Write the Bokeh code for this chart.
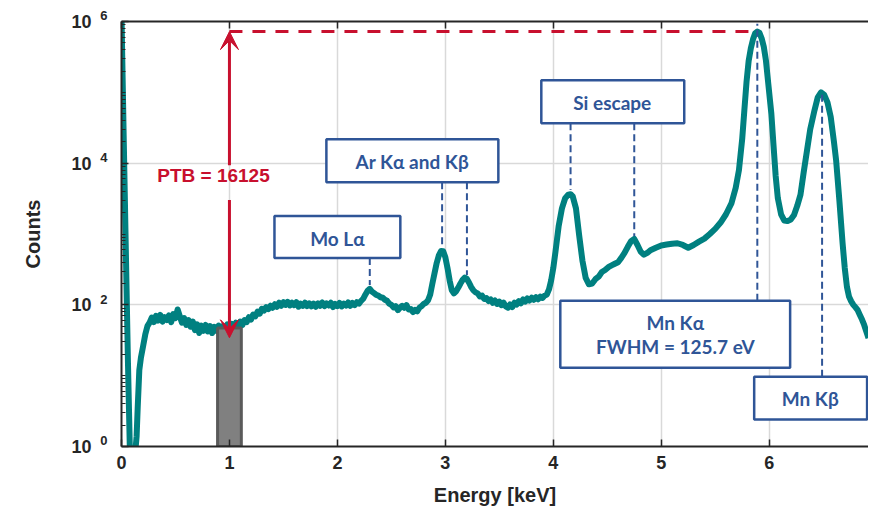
from bokeh.plotting import figure
from bokeh.models import (Range1d, FixedTicker, LinearAxis, LogAxis, Label, Arrow, VeeHead,
                          CustomJSTickFormatter)
from bokeh.core.properties import value
from bokeh.embed import file_html
from bokeh.resources import INLINE

# ---------------- data ----------------
# low-energy edge (noise peak / detector cut-off)
energy_low = [0.00, 0.02, 0.04, 0.06, 0.08, 0.10, 0.12, 0.14, 0.15, 0.165, 0.18, 0.20, 0.22, 0.24]
counts_low = [1.2e6, 2.5e4, 600, 15, 0.6, 0.5, 0.6, 1.4, 3.5, 12, 18, 26, 38, 50]

# background + Mo L / Ar K region
energy_mid = [
    0.26, 0.28, 0.30, 0.32, 0.34, 0.36, 0.38, 0.40, 0.42, 0.44,
    0.46, 0.48, 0.50, 0.52, 0.54, 0.56, 0.58, 0.60, 0.62, 0.64,
    0.66, 0.68, 0.70, 0.72, 0.74, 0.76, 0.78, 0.80, 0.82, 0.84,
    0.86, 0.88, 0.90, 0.92, 0.94, 0.96, 0.98, 1.00, 1.02, 1.04,
    1.06, 1.08, 1.10, 1.12, 1.14, 1.16, 1.18, 1.20, 1.22, 1.24,
    1.26, 1.28, 1.30, 1.32, 1.34, 1.36, 1.38, 1.40, 1.42, 1.44,
    1.46, 1.48, 1.50, 1.52, 1.54, 1.56, 1.58, 1.60, 1.62, 1.64,
    1.66, 1.68, 1.70, 1.72, 1.74, 1.76, 1.78, 1.80, 1.82, 1.84,
    1.86, 1.88, 1.90, 1.92, 1.94, 1.96, 1.98, 2.00, 2.02, 2.04,
    2.06, 2.08, 2.10, 2.12, 2.14, 2.16, 2.18, 2.20, 2.22, 2.24,
    2.26, 2.28, 2.30, 2.32, 2.34, 2.36, 2.38, 2.40, 2.42, 2.44,
    2.46, 2.48, 2.50, 2.52, 2.54, 2.56, 2.58, 2.60, 2.62, 2.64,
    2.66, 2.68, 2.70, 2.72, 2.74, 2.76, 2.78, 2.80, 2.82, 2.84,
    2.86, 2.88, 2.90, 2.92, 2.94, 2.96, 2.98, 3.00, 3.02, 3.04,
    3.06, 3.08, 3.10, 3.12, 3.14, 3.16, 3.18, 3.20, 3.22, 3.24,
    3.26, 3.28, 3.30, 3.32, 3.34, 3.36, 3.38, 3.40, 3.42, 3.44,
    3.46, 3.48, 3.50, 3.52, 3.54, 3.56, 3.58, 3.60, 3.62, 3.64,
    3.66, 3.68, 3.70, 3.72, 3.74, 3.76, 3.78, 3.80, 3.82, 3.84,
    3.86, 3.88, 3.90, 3.92, 3.94, 3.96, 3.98,
]
counts_mid = [
    56, 66, 57, 70, 60, 72, 58, 67, 61, 71,
    57, 74, 65, 86, 69, 56, 65, 52, 61, 49,
    58, 44, 53, 40, 51, 43, 52, 42, 50, 40,
    49, 43, 51, 42, 50, 45, 53, 46, 54, 48,
    56, 49, 58, 52, 61, 57, 67, 62, 73, 69,
    80, 75, 88, 83, 93, 87, 97, 91, 102, 94,
    107, 97, 109, 100, 110, 98, 107, 99, 109, 94,
    104, 97, 107, 96, 105, 95, 104, 94, 105, 97,
    108, 96, 105, 98, 107, 93, 103, 96, 106, 95,
    104, 98, 108, 97, 106, 99, 109, 104, 114, 122,
    140, 158, 168, 154, 146, 138, 135, 128, 126, 118,
    114, 104, 100, 92, 96, 84, 91, 97, 91, 99,
    86, 87, 79, 85, 81, 91, 96, 103, 107, 116,
    140, 200, 280, 390, 500, 575, 570, 470, 330, 220,
    160, 145, 155, 175, 200, 225, 242, 232, 205, 178,
    160, 150, 145, 131, 135, 121, 125, 113, 119, 107,
    115, 103, 111, 99, 107, 95, 91, 101, 93, 107,
    101, 113, 105, 119, 111, 123, 115, 126, 118, 128,
    120, 131, 125, 135, 140, 165, 220,
]

# Si escape + Mn K region
energy_high = [
    4.00, 4.02, 4.05, 4.08, 4.11, 4.14, 4.16, 4.18, 4.21, 4.24,
    4.27, 4.30, 4.33, 4.36, 4.39, 4.42, 4.45, 4.48, 4.51, 4.54,
    4.57, 4.60, 4.63, 4.66, 4.69, 4.72, 4.75, 4.78, 4.81, 4.84,
    4.87, 4.90, 4.95, 5.00, 5.05, 5.10, 5.15, 5.20, 5.25, 5.30,
    5.35, 5.40, 5.45, 5.50, 5.55, 5.60, 5.65, 5.69, 5.72, 5.75,
    5.77, 5.79, 5.81, 5.83, 5.85, 5.87, 5.89, 5.91, 5.93, 5.95,
    5.97, 5.99, 6.02, 6.04, 6.06, 6.08, 6.11, 6.14, 6.17, 6.20,
    6.23, 6.26, 6.29, 6.32, 6.35, 6.38, 6.42, 6.45, 6.48, 6.51,
    6.54, 6.57, 6.60, 6.62, 6.65, 6.68, 6.70, 6.72, 6.74, 6.76,
    6.78, 6.80, 6.82, 6.84, 6.86, 6.88, 6.90, 6.92,
]
counts_high = [
    330, 560, 1300, 2300, 3200, 3600, 3650, 3400, 2300, 950,
    420, 240, 195, 200, 230, 250, 290, 310, 340, 360,
    380, 400, 460, 540, 660, 790, 850, 700, 560, 510,
    540, 590, 640, 690, 710, 730, 740, 700, 640, 700,
    780, 860, 1000, 1180, 1450, 1900, 2700, 4500, 8000, 22000,
    56000, 140000, 280000, 420000, 560000, 680000, 720000, 690000, 580000, 440000,
    280000, 140000, 50000, 18000, 6600, 3200, 1900, 1550, 1520, 1600,
    1850, 2500, 3600, 7500, 15000, 30000, 56000, 85000, 100000, 92000,
    72000, 45000, 20000, 11000, 3000, 740, 330, 180, 130, 112,
    100, 92, 84, 72, 62, 52, 42, 34,
]

energy_kev = energy_low + energy_mid + energy_high
counts = counts_low + counts_mid + counts_high

x_ticks = [0, 1, 2, 3, 4, 5, 6]
y_ticks = [1, 1e2, 1e4, 1e6]
y_tick_base = "10"
y_exponents = ["0", "2", "4", "6"]

# peak annotation boxes (keV / counts)
box_left = [1.417, 1.898, 3.889, 4.065, 5.861]
box_right = [2.583, 3.491, 5.213, 6.194, 6.907]
box_bottom = [10**2.662, 10**3.732, 10**4.563, 10**1.113, 10**0.380]
box_top = [10**3.254, 10**4.338, 10**5.169, 10**2.056, 10**0.986]
text_x = [2.0, 2.694, 4.546, 5.13, 5.13, 6.38]
text_y = [10**2.93, 10**4.03, 10**4.86, 10**1.746, 10**1.408, 10**0.676]
text_lines = ["Mo Lα", "Ar Kα and Kβ", "Si escape", "Mn Kα", "FWHM = 125.7 eV", "Mn Kβ"]

# dashed peak markers
mark_x = [2.30, 2.97, 3.20, 4.16, 4.75, 5.89, 6.49]
mark_y0 = [10**2.662, 10**3.732, 10**3.732, 10**4.563, 10**4.563, 10**2.056, 10**0.986]
mark_y1 = [10**2.28, 10**2.82, 10**2.42, 10**3.62, 10**2.97, 10**5.97, 10**5.0]

# peak-to-background
peak_energy = 5.88
peak_counts = 7.2e5
bg_energy = 1.0
bg_left, bg_right = 0.89, 1.11
bg_counts = 47
ptb_text = "PTB = 16125"

TEAL = "#008080"
BLUE = "#2F5597"
RED = "#C8102E"
DARK = "#262626"

p = figure(width=868, height=515, x_range=Range1d(0, 6.92), y_range=Range1d(1, 1e6),
           y_axis_type="log", output_backend="svg", toolbar_location=None,
           min_border_left=121, min_border_right=0, min_border_top=21, min_border_bottom=69)
p.outline_line_color = None
p.background_fill_color = "white"
p.border_fill_color = "white"

# grid
p.xgrid.ticker = FixedTicker(ticks=x_ticks[1:])
p.ygrid.ticker = FixedTicker(ticks=[1e2, 1e4])
for g in (p.xgrid, p.ygrid):
    g.grid_line_color = "#d9d9d9"
    g.grid_line_width = 1.5

# inner y axis: axis line, ticks and the exponents (an empty 2nd line lifts them up)
minor = [m * 10**k for k in range(6) for m in range(2, 10)] + [10, 1e3, 1e5]
exp_axis = p.yaxis[0]
xax = p.xaxis[0]
exp_axis.ticker = FixedTicker(ticks=y_ticks, minor_ticks=minor)
exp_axis.formatter = CustomJSTickFormatter(
    args=dict(tv=y_ticks, labs=y_exponents),
    code="const i = tv.findIndex(t => Math.abs(t - tick) < 1e-6 * t); return i >= 0 ? labs[i] + '\\n ' : '';")
xax.ticker = FixedTicker(ticks=x_ticks)
for ax in (xax, exp_axis):
    ax.axis_line_color = DARK
    ax.axis_line_width = 2
    ax.major_tick_in = 7
    ax.major_tick_out = 0
    ax.major_tick_line_color = DARK
    ax.major_tick_line_width = 1.5
    ax.minor_tick_in = 4
    ax.minor_tick_out = 0
    ax.minor_tick_line_color = DARK
    ax.major_label_text_font = "Liberation Sans"
    ax.major_label_text_font_style = "bold"
    ax.major_label_text_color = DARK
    ax.major_label_text_font_size = "18px"
    ax.axis_label_text_font = "Liberation Sans"
    ax.axis_label_text_font_style = "bold"
    ax.axis_label_text_color = DARK
    ax.axis_label_text_font_size = "20px"
xax.minor_tick_line_color = None
xax.major_label_standoff = 9
xax.axis_label = "Energy [keV]"
xax.axis_label_standoff = 12
exp_axis.major_label_text_font_size = "13px"
exp_axis.major_label_text_line_height = 0.75
exp_axis.major_label_standoff = 14

# outer y axis: the "10" bases and the title
base_axis = LogAxis(ticker=FixedTicker(ticks=y_ticks),
                    formatter=CustomJSTickFormatter(args=dict(b=y_tick_base), code="return b;"),
                    axis_line_color=None, major_tick_line_color=None, minor_tick_line_color=None,
                    major_tick_in=0, major_tick_out=0, minor_tick_in=0, minor_tick_out=0,
                    major_label_standoff=6, major_label_text_font="Liberation Sans",
                    major_label_text_font_style="bold", major_label_text_color=DARK,
                    major_label_text_font_size="18px",
                    axis_label="Counts", axis_label_standoff=24,
                    axis_label_text_font="Liberation Sans", axis_label_text_font_style="bold",
                    axis_label_text_color=DARK, axis_label_text_font_size="20px")
p.add_layout(base_axis, "left")

top = LinearAxis(ticker=FixedTicker(ticks=x_ticks), formatter=CustomJSTickFormatter(code="return ''"),
                 axis_line_color=DARK, axis_line_width=2, major_tick_in=7, major_tick_out=0,
                 major_tick_line_color=DARK, major_tick_line_width=1.5,
                 minor_tick_line_color=None, major_label_standoff=0,
                 major_label_text_font_size="1px")
p.add_layout(top, "above")

# red dashed peak level
p.line([bg_energy, peak_energy], [peak_counts, peak_counts], line_color=RED,
       line_width=3, line_dash="13 10")

# spectrum
p.line(energy_kev, counts, line_color=TEAL, line_width=6, line_join="round")

# background window
p.quad(left=[bg_left], right=[bg_right], bottom=[1], top=[bg_counts],
       fill_color="#808080", line_color="#5a5a5a", line_width=3)

# dashed markers
p.segment(x0=mark_x, y0=mark_y0, x1=mark_x, y1=mark_y1, line_color=BLUE,
          line_width=2, line_dash="7 4")

# boxes
p.quad(left=box_left, right=box_right, bottom=box_bottom, top=box_top,
       fill_color="white", line_color=BLUE, line_width=2.5)
p.text(x=text_x, y=text_y, text=text_lines, text_font=value("Lato"),
       text_font_style="bold", text_font_size=value("19px"), text_color=BLUE,
       text_align="center", text_baseline="middle")

# PTB arrow (split around the label)
p.add_layout(Arrow(end=VeeHead(size=18, fill_color=RED, line_color=RED),
                   x_start=bg_energy, y_start=10**3.97, x_end=bg_energy, y_end=peak_counts,
                   line_color=RED, line_width=3))
p.add_layout(Arrow(end=VeeHead(size=18, fill_color=RED, line_color=RED),
                   x_start=bg_energy, y_start=10**3.48, x_end=bg_energy, y_end=10**1.535,
                   line_color=RED, line_width=3))
p.add_layout(Label(x=0.852, y=10**3.83, text=ptb_text, text_align="center",
                   text_baseline="middle", text_font="Liberation Sans",
                   text_font_style="bold", text_font_size="19px", text_color=RED))

open("out.html", "w").write(file_html(p, INLINE))
